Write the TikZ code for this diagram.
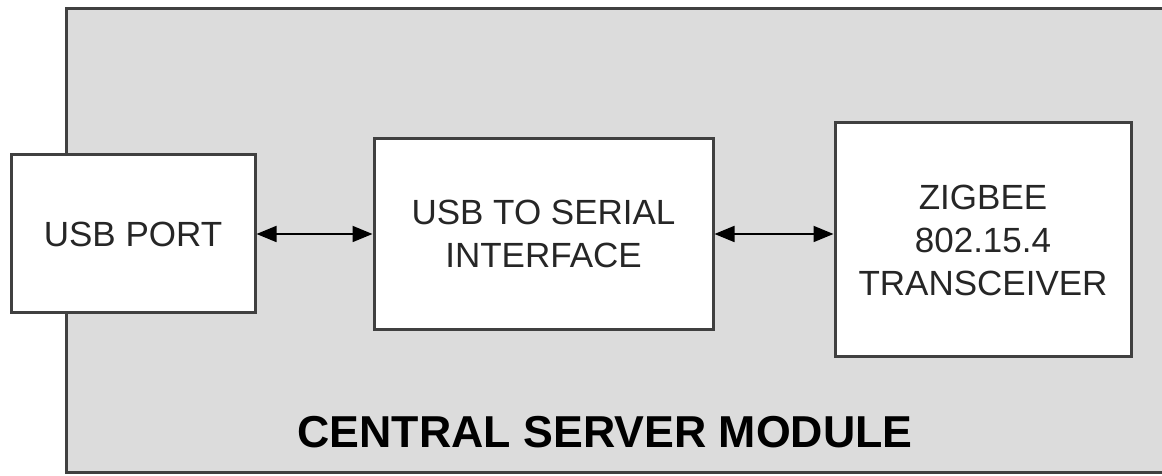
\documentclass[tikz,border=0pt]{standalone}
\usepackage{fontspec}
\setmainfont{Liberation Sans}
\usetikzlibrary{arrows.meta,positioning}
\definecolor{modgray}{HTML}{DCDCDC}
\definecolor{edgegray}{HTML}{404040}
\begin{document}
\begin{tikzpicture}[x=1pt,y=1pt,thick,
	main node/.style = {rectangle,draw=edgegray,line width=3pt,fill=white,align=center,
		text=black!85,font=\fontsize{35}{43}\selectfont},
	link/.style = {{Triangle[length=20pt,width=16pt]}-{Triangle[length=20pt,width=16pt]},line width=1.8pt}]
	
	\useasboundingbox (0,0) rectangle (1162,476);
	\draw[draw=edgegray,line width=3pt,fill=modgray] (66,3) rectangle (1180,467);
	
	\node[main node,minimum width=244pt,minimum height=158pt] at (133,242) (1) {USB PORT};
	\node[main node,minimum width=339pt,minimum height=191pt] [right of = 1,node distance=410.5pt] (2) {USB TO SERIAL\\INTERFACE};
	\node[main node,minimum width=296pt,minimum height=234pt] [right of = 2,node distance=439.5pt,yshift=-6pt] (3) {ZIGBEE\\802.15.4\\TRANSCEIVER};
	\node[font=\fontsize{44.7}{50}\selectfont\bfseries] at (605,44) (4) {CENTRAL SERVER MODULE};
	
	\path[link]
	(1) edge (2)
	(2.east |- 1.east) edge (3.west |- 1.east);
\end{tikzpicture}
\end{document}
